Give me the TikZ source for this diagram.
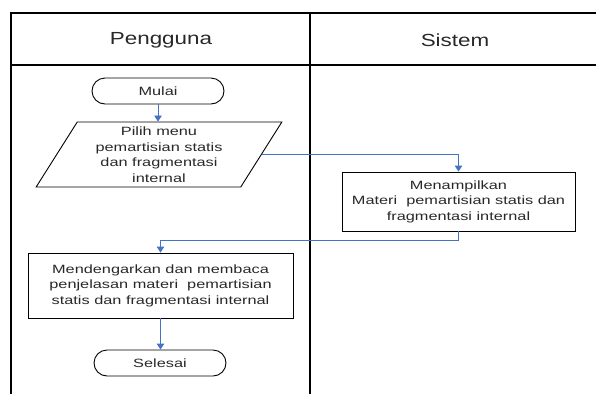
\documentclass[tikz,border=0pt]{standalone}
\usepackage{fontspec}
\setmainfont{Liberation Sans}
\newfontfamily\headfont[FakeStretch=1.28]{Liberation Sans}
\newfontfamily\bodyfont[FakeStretch=1.36]{Liberation Sans}
\usetikzlibrary{shapes.geometric,arrows.meta}
\definecolor{flowblue}{RGB}{68,114,196}
\definecolor{inkgray}{RGB}{40,40,40}

\begin{document}
\begin{tikzpicture}[x=1pt,y=-1pt,
  lane/.style={line width=2pt,black},
  header/.style={font=\headfont\fontsize{17.5}{20}\selectfont,text=inkgray},
  body/.style={font=\bodyfont\fontsize{12}{15.5}\selectfont,text=inkgray,align=center},
  term/.style={body,draw,line width=0.9pt,rounded corners=13pt,
    minimum width=132pt,minimum height=26pt,inner sep=0pt},
  proc/.style={body,draw,line width=0.9pt,inner sep=0pt},
  io/.style={body,draw,line width=0.9pt,trapezium,trapezium left angle=60,
    trapezium right angle=120,trapezium stretches=true,inner sep=0pt,
    minimum width=246pt,minimum height=65pt},
  flow/.style={draw=flowblue,line width=0.9pt,
    -{Triangle[length=6pt,width=7.5pt,fill=flowblue]}}]

\useasboundingbox (0,0) rectangle (596,394);

% swimlane frame
\draw[lane] (596,13) -- (11,13) -- (11,394);
\draw[lane] (11,65) -- (596,65);
\draw[lane] (310,13) -- (310,394);

% lane headings
\node[header] (hpengguna) at (161,40) {Pengguna};
\node[header] (hsistem) at (455,40) {Sistem};

% flow steps
\node[term] (mulai) at (158,91) {Mulai};
\node[io] (pilih) at (159,154.5) {Pilih menu\\pemartisian statis\\dan fragmentasi\\internal};
\node[proc,minimum width=233pt,minimum height=59pt] (tampil) at (458.5,201.5)
  {Menampilkan\\Materi\ \ pemartisian statis dan\\fragmentasi internal};
\node[proc,minimum width=265pt,minimum height=65pt] (baca) at (160.5,285.5)
  {Mendengarkan dan membaca\\penjelasan materi\ \ pemartisian\\statis dan fragmentasi internal};
\node[term] (selesai) at (160,363) {Selesai};

% connectors
\coordinate (turn) at (458.5,240);
\draw[flow] (mulai.south) -- (mulai.south |- pilih.north);
\draw[flow] (pilih.east) -| (tampil.north);
\draw[flow] (tampil.south) -- (turn) -| (baca.north);
\draw[flow] (baca.south) -- (baca.south |- selesai.north);
\end{tikzpicture}
\end{document}
